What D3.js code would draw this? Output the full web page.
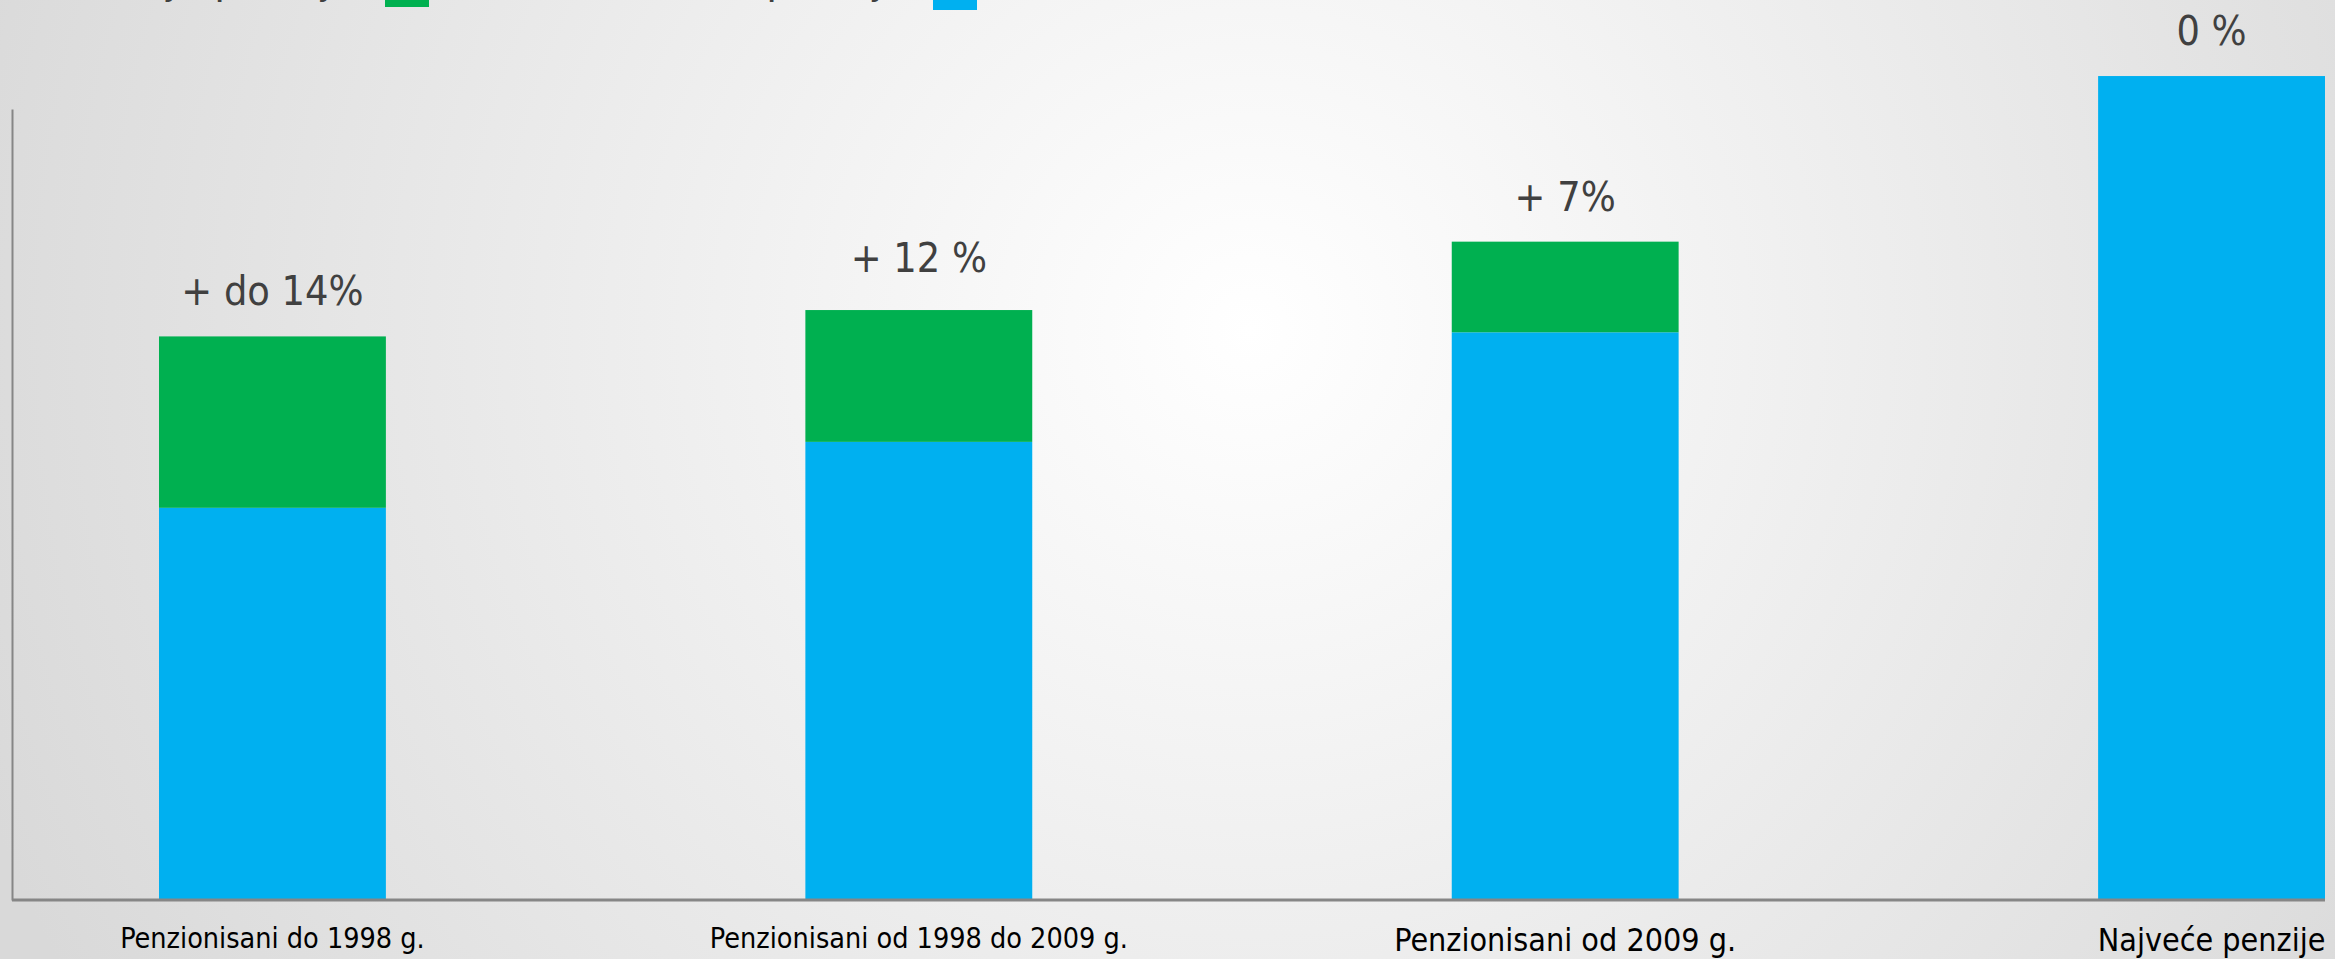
<!DOCTYPE html>
<html>
<head>
<meta charset="utf-8">
<script src="https://cdn.jsdelivr.net/npm/d3@7"></script>
<style>
  html, body { margin: 0; padding: 0; overflow: hidden; }
  svg { display: block; }
</style>
</head>
<body>
<div id="chart"></div>
<script>
const categories = ["Penzionisani do 1998 g.", "Penzionisani od 1998 do 2009 g.", "Penzionisani od 2009 g.", "Najveće penzije"];
const baseValues = [47.6, 55.6, 68.9, 100];
const increaseValues = [20.8, 16.0, 11.0, 0];
const increaseLabels = ["+ do 14%", "+ 12 %", "+ 7%", "0 %"];
const legendLabels = ["Povećanje penzije", "Iznos penzije"];

const width = 2335, height = 959;
const font = "'Liberation Sans Narrow', 'Arial Narrow', 'DejaVu Sans Condensed', 'Liberation Sans', sans-serif";
const green = "#00b050", blue = "#00b0f0";

const svg = d3.select("#chart")
    .append("svg")
    .attr("width", width)
    .attr("height", height);

// slide background
const grad = svg.append("defs").append("radialGradient")
    .attr("id", "bg")
    .attr("gradientUnits", "userSpaceOnUse")
    .attr("cx", 1250).attr("cy", 330).attr("r", 1350);
grad.append("stop").attr("offset", "0%").attr("stop-color", "#ffffff");
grad.append("stop").attr("offset", "100%").attr("stop-color", "#d9d9d9");
svg.append("rect").attr("width", width).attr("height", height).attr("fill", "url(#bg)");

// scales
const x = d3.scaleBand()
    .domain(categories)
    .range([159, 2325])
    .paddingInner(0.649)
    .paddingOuter(0);

const y = d3.scaleLinear()
    .domain([0, 96])
    .range([900, 109]);

// bars: blue base, green increase on top
const g = svg.append("g");
g.selectAll(".base")
    .data(categories)
    .enter().append("rect")
    .attr("class", "base")
    .attr("x", d => x(d))
    .attr("y", (d, i) => y(baseValues[i]))
    .attr("width", x.bandwidth())
    .attr("height", (d, i) => y(0) - y(baseValues[i]))
    .attr("fill", blue);

g.selectAll(".inc")
    .data(categories)
    .enter().append("rect")
    .attr("class", "inc")
    .attr("x", d => x(d))
    .attr("y", (d, i) => y(baseValues[i] + increaseValues[i]))
    .attr("width", x.bandwidth())
    .attr("height", (d, i) => y(baseValues[i]) - y(baseValues[i] + increaseValues[i]))
    .attr("fill", green);

// value labels above bars
g.selectAll(".lbl")
    .data(categories)
    .enter().append("text")
    .attr("class", "lbl")
    .attr("x", d => x(d) + x.bandwidth() / 2)
    .attr("y", (d, i) => y(baseValues[i] + increaseValues[i]) - (i === 1 ? 38 : 31))
    .attr("text-anchor", "middle")
    .attr("font-family", font)
    .attr("font-size", 41)
    .attr("fill", "#404040")
    .text((d, i) => increaseLabels[i]);

// axes
svg.append("g")
    .attr("transform", "translate(12,0)")
    .call(d3.axisLeft(y).ticks(0).tickSizeOuter(0))
    .call(a => a.select(".domain").attr("stroke", "#868686").attr("stroke-width", 2));

svg.append("line")
    .attr("x1", 12).attr("x2", 2325)
    .attr("y1", y(0)).attr("y2", y(0))
    .attr("stroke", "#868686")
    .attr("stroke-width", 3);

const xAxis = svg.append("g")
    .attr("transform", `translate(0,${y(0)})`)
    .call(d3.axisBottom(x).tickSize(0).tickPadding(28));
xAxis.select(".domain").remove();
xAxis.selectAll("text")
    .attr("font-family", font)
    .attr("font-size", (d, i) => i < 2 ? 28.5 : 32)
    .attr("fill", "#000");

// legend, cut off at the top of the slide
const legendX = [356, 908];
const legend = svg.append("g");
legend.selectAll("text")
    .data(legendLabels)
    .enter().append("text")
    .attr("x", (d, i) => legendX[i])
    .attr("y", -7)
    .attr("text-anchor", "end")
    .attr("font-family", font)
    .attr("font-size", 44)
    .attr("fill", "#404040")
    .text(d => d);
legend.selectAll("rect")
    .data(legendLabels)
    .enter().append("rect")
    .attr("x", (d, i) => legendX[i] + 29 + i * -4)
    .attr("y", (d, i) => i === 0 ? -37 : -34)
    .attr("width", 44)
    .attr("height", 44)
    .attr("fill", (d, i) => i === 0 ? green : blue);
</script>
</body>
</html>
